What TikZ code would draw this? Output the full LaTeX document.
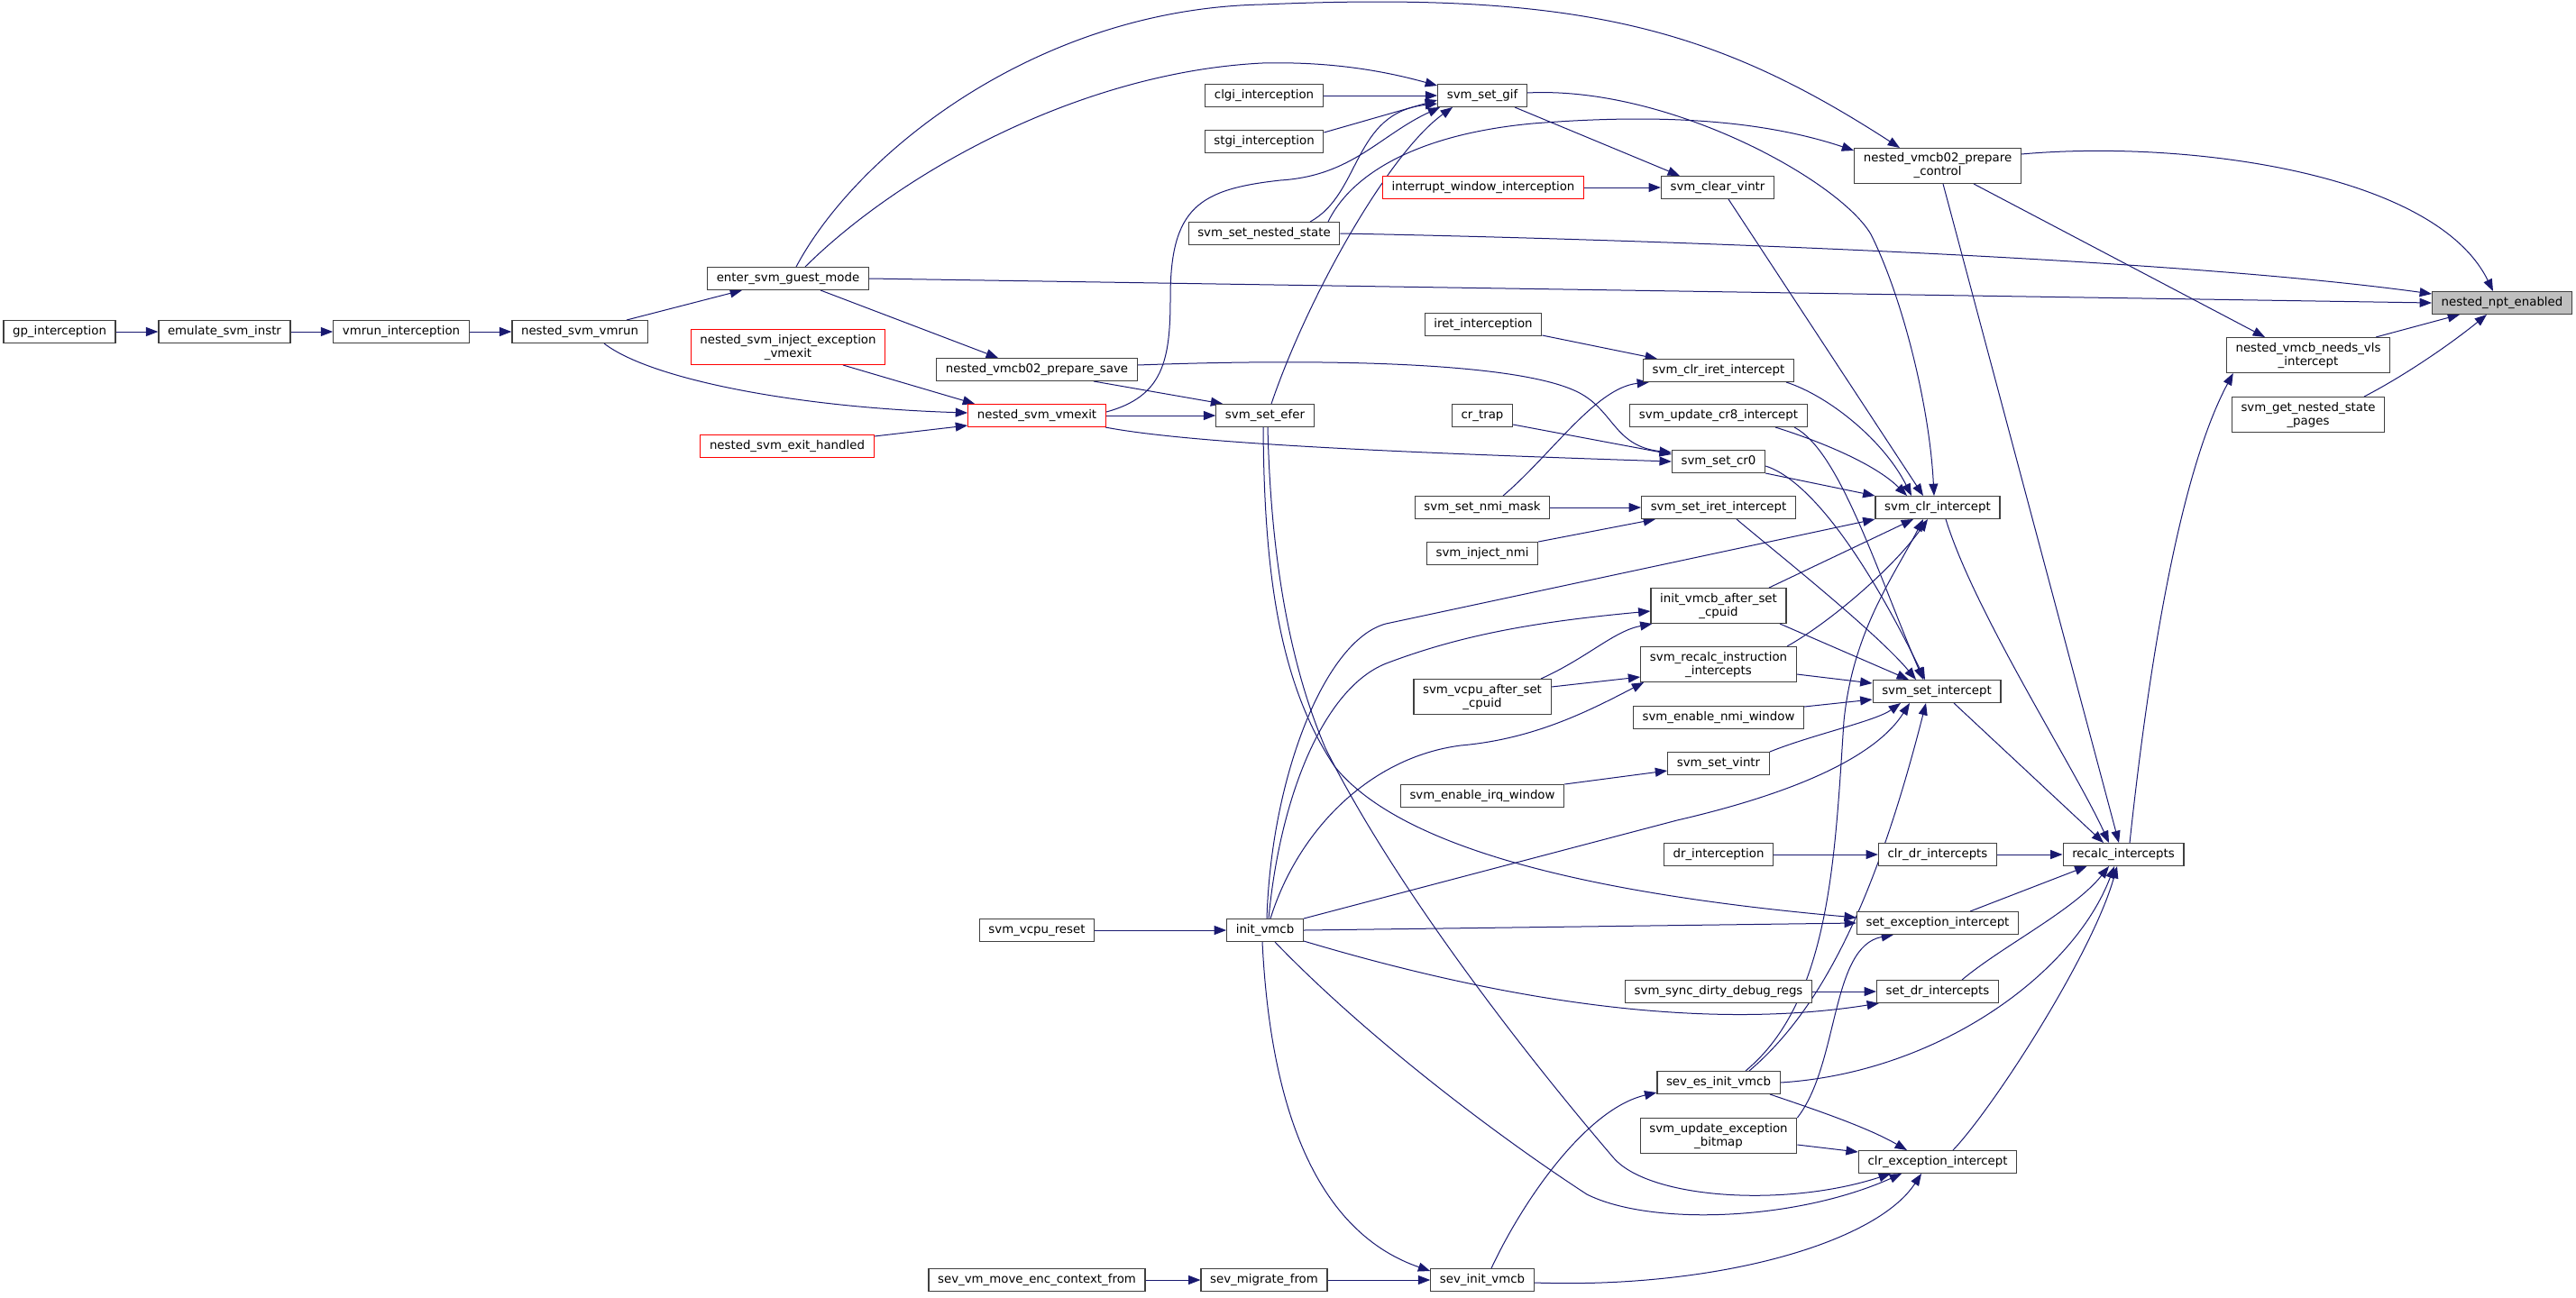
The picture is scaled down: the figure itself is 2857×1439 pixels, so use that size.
\documentclass[tikz,border=0pt]{standalone}
\usepackage{fontspec}
\setmainfont{DejaVu Sans}
\usetikzlibrary{arrows.meta,calc,backgrounds}
\definecolor{midnight}{HTML}{191970}
\definecolor{greyA}{HTML}{404040}
\definecolor{greyB}{HTML}{BFBFBF}
\tikzset{
  fn/.style={draw=greyA, line width=0.9pt, fill=white, inner xsep=7.6pt, inner ysep=2pt,
    minimum height=18.6pt, align=center, font=\fontsize{10}{11.25}\selectfont},
  fnred/.style={fn, draw=red},
  fnmain/.style={fn, fill=greyB},
  two/.style={minimum height=29.1pt},
  edge/.style={draw=midnight, line width=0.75pt, -{Triangle[length=10pt,width=7.5pt]}}
}
\begin{document}
\begin{tikzpicture}[x=0.75pt,y=-0.75pt]
\useasboundingbox (0,0) rectangle (2857,1439);
% nodes
\node[fn] (gp) at (66,368) {gp\_interception};
\node[fn] (emu) at (249,368) {emulate\_svm\_instr};
\node[fn] (vmrun) at (445,368) {vmrun\_interception};
\node[fn] (nsvmrun) at (643,368) {nested\_svm\_vmrun};
\node[fn] (egm) at (874,309) {enter\_svm\_guest\_mode};
\node[fnred,two] (inject) at (874,385) {nested\_svm\_inject\_exception\\\_vmexit};
\node[fnred] (exith) at (873,495) {nested\_svm\_exit\_handled};
\node[fn] (psave) at (1150,410) {nested\_vmcb02\_prepare\_save};
\node[fnred] (vmexit) at (1150,461) {nested\_svm\_vmexit};
\node[fn] (vreset) at (1150,1032) {svm\_vcpu\_reset};
\node[fn] (svmove) at (1150,1420) {sev\_vm\_move\_enc\_context\_from};
\node[fn] (clgi) at (1402,106) {clgi\_interception};
\node[fn] (stgi) at (1402,157) {stgi\_interception};
\node[fn] (nstate) at (1402,259) {svm\_set\_nested\_state};
\node[fn] (efer) at (1403,461) {svm\_set\_efer};
\node[fn] (initv) at (1403,1032) {init\_vmcb};
\node[fn] (migrate) at (1402,1420) {sev\_migrate\_from};
\node[fn] (gif) at (1644,106) {svm\_set\_gif};
\node[fnred] (iwi) at (1645,208) {interrupt\_window\_interception};
\node[fn] (iretint) at (1645,360) {iret\_interception};
\node[fn] (crtrap) at (1644,461) {cr\_trap};
\node[fn] (nmimask) at (1644,563) {svm\_set\_nmi\_mask};
\node[fn] (injnmi) at (1644,614) {svm\_inject\_nmi};
\node[fn,two] (vcpuafter) at (1644,773) {svm\_vcpu\_after\_set\\\_cpuid};
\node[fn] (irqwin) at (1644,883) {svm\_enable\_irq\_window};
\node[fn] (sevinit) at (1644,1420) {sev\_init\_vmcb};
\node[fn] (clrvintr) at (1905,208) {svm\_clear\_vintr};
\node[fn] (clriret) at (1906,411) {svm\_clr\_iret\_intercept};
\node[fn] (updcr8) at (1906,461) {svm\_update\_cr8\_intercept};
\node[fn] (setcr0) at (1906,512) {svm\_set\_cr0};
\node[fn] (setiret) at (1906,563) {svm\_set\_iret\_intercept};
\node[fn,two] (initafter) at (1906,672) {init\_vmcb\_after\_set\\\_cpuid};
\node[fn,two] (recalcinstr) at (1906,737) {svm\_recalc\_instruction\\\_intercepts};
\node[fn] (nmiwin) at (1906,796) {svm\_enable\_nmi\_window};
\node[fn] (setvintr) at (1906,847) {svm\_set\_vintr};
\node[fn] (drint) at (1906,948) {dr\_interception};
\node[fn] (syncdbg) at (1906,1100) {svm\_sync\_dirty\_debug\_regs};
\node[fn] (sevesinit) at (1906,1201) {sev\_es\_init\_vmcb};
\node[fn,two] (updexc) at (1906,1260) {svm\_update\_exception\\\_bitmap};
\node[fn,two] (pctrl) at (2149,184) {nested\_vmcb02\_prepare\\\_control};
\node[fn] (clrint) at (2149,563) {svm\_clr\_intercept};
\node[fn] (setint) at (2148,767) {svm\_set\_intercept};
\node[fn] (clrdr) at (2149,948) {clr\_dr\_intercepts};
\node[fn] (setexc) at (2149,1024) {set\_exception\_intercept};
\node[fn] (setdr) at (2149,1100) {set\_dr\_intercepts};
\node[fn] (clrexc) at (2149,1289) {clr\_exception\_intercept};
\node[fn] (recalc) at (2355,948) {recalc\_intercepts};
\node[fn,two] (vls) at (2560,394) {nested\_vmcb\_needs\_vls\\\_intercept};
\node[fn,two] (getnested) at (2560,460) {svm\_get\_nested\_state\\\_pages};
\node[fnmain] (npt) at (2775,336) {nested\_npt\_enabled};
% edges
\begin{scope}[on background layer]
\draw[edge] (gp) -- (emu);
\draw[edge] (emu) -- (vmrun);
\draw[edge] (vmrun) -- (nsvmrun);
\draw[edge] ($(nsvmrun.north)+(52,0)$) -- ($(egm.south)+(-51,0)$);
\draw[edge] ($(nsvmrun.south)+(27,0)$) .. controls (720,420) and (880,452) .. ($(vmexit.west)+(0,-3)$);
\draw[edge] ($(inject.south)+(61,0)$) -- ($(vmexit.north west)+(8,0)$);
\draw[edge] ($(exith.north east)+(0,2)$) -- ($(vmexit.south west)+(0,-2)$);
\draw[edge] ($(egm.south)+(36,0)$) -- ($(psave.north)+(-43,0)$);
\draw[edge] ($(egm.north)+(19,0)$) .. controls (1000,190) and (1200,80) .. (1400,70) .. controls (1480,68) and (1540,80) .. ($(gif.north west)+(0,2)$);
\draw[edge] ($(egm.north)+(9,0)$) .. controls (950,170) and (1150,10) .. (1400,5) .. controls (1750,-10) and (1900,30) .. ($(pctrl.north)+(-42,0)$);
\draw[edge] (egm.east) -- (npt.west);
\draw[edge] (nstate.east) .. controls (1800,265) and (2400,285) .. ($(npt.west)+(0,-10)$);
\draw[edge] ($(nstate.north)+(51,0)$) .. controls (1510,215) and (1500,125) .. ($(gif.west)+(0,9)$);
\draw[edge] ($(nstate.north)+(71,0)$) .. controls (1495,200) and (1560,150) .. (1700,137) .. controls (1850,125) and (1960,135) .. ($(pctrl.west)+(0,-17)$);
\draw[edge] ($(vmexit.east)+(0,-4)$) .. controls (1290,440) and (1298,400) .. (1298,330) .. controls (1298,230) and (1330,210) .. (1420,200) .. controls (1500,195) and (1530,150) .. ($(gif.south west)+(3,0)$);
\draw[edge] (clgi) -- (gif);
\draw[edge] ($(stgi.north east)+(0,3)$) -- ($(gif.west)+(0,5)$);
\draw[edge] ($(efer.north)+(7,0)$) .. controls (1450,330) and (1540,170) .. ($(gif.south)+(-33,0)$);
\draw[edge] ($(gif.south)+(36,0)$) -- ($(clrvintr.north)+(-42,0)$);
\draw[edge] (iwi) -- (clrvintr);
\draw[edge] ($(gif.east)+(0,-3)$) .. controls (1850,95) and (2040,200) .. (2075,260) .. controls (2110,330) and (2140,450) .. ($(clrint.north)+(-4,0)$);
\draw[edge] ($(clrvintr.south)+(12,0)$) -- ($(clrint.north)+(-16,0)$);
\draw[edge] ($(iretint.south east)+(0,-1)$) -- ($(clriret.north west)+(16,0)$);
\draw[edge] ($(nmimask.north)+(23,0)$) .. controls (1720,505) and (1770,430) .. ($(clriret.south west)+(7,0)$);
\draw[edge] ($(clriret.south east)+(-9,0)$) .. controls (2030,440) and (2090,490) .. ($(clrint.north)+(-29,0)$);
\draw[edge] ($(updcr8.south)+(63,0)$) .. controls (2020,490) and (2080,515) .. ($(clrint.north)+(-34,0)$);
\draw[edge] ($(updcr8.south)+(84,0)$) .. controls (2040,500) and (2080,630) .. ($(setint.north)+(-15,0)$);
\draw[edge] ($(crtrap.south east)+(0,-3)$) -- ($(setcr0.north west)+(0,5)$);
\draw[edge] ($(psave.east)+(0,-5)$) .. controls (1450,398) and (1680,400) .. (1750,435) .. controls (1790,455) and (1790,495) .. ($(setcr0.north west)+(0,3)$);
\draw[edge] ($(vmexit.south east)+(-1,0)$) .. controls (1320,492) and (1550,502) .. (setcr0.west);
\draw[edge] (nmimask) -- (setiret);
\draw[edge] (injnmi.north east) -- ($(setiret.south west)+(16,0)$);
\draw[edge] (setcr0.south east) -- (clrint.north west);
\draw[edge] ($(setcr0.east)+(0,5)$) .. controls (2000,530) and (2060,600) .. ($(setint.north)+(-13,0)$);
\draw[edge] ($(setiret.south)+(20,0)$) .. controls (1960,605) and (2080,700) .. ($(setint.north)+(-23,0)$);
\draw[edge] ($(initafter.north)+(56,0)$) -- ($(clrint.south)+(-27,0)$);
\draw[edge] ($(initafter.south)+(68,0)$) -- ($(setint.north)+(-31,0)$);
\draw[edge] ($(recalcinstr.north)+(76,0)$) .. controls (2030,690) and (2100,630) .. ($(clrint.south)+(-11,0)$);
\draw[edge] ($(recalcinstr.east)+(0,11)$) -- ($(setint.north west)+(0,4)$);
\draw[edge] ($(vcpuafter.north)+(65,0)$) .. controls (1760,730) and (1790,700) .. ($(initafter.south west)+(2,0)$);
\draw[edge] ($(vcpuafter.east)+(0,-11)$) -- ($(recalcinstr.west)+(0,14)$);
\draw[edge] ($(nmiwin.north east)+(0,1)$) -- ($(setint.south west)+(0,-4)$);
\draw[edge] (setvintr.north east) .. controls (2010,815) and (2080,800) .. ($(setint.south)+(-40,0)$);
\draw[edge] (irqwin.north east) -- ($(setvintr.west)+(0,8)$);
\draw[edge] (drint) -- (clrdr);
\draw[edge] (clrdr) -- (recalc);
\draw[edge] (syncdbg) -- (setdr);
\draw[edge] ($(setint.south)+(19,0)$) -- ($(recalc.north)+(-22,0)$);
\draw[edge] ($(clrint.south)+(9,0)$) .. controls (2190,680) and (2300,850) .. ($(recalc.north)+(-16,0)$);
\draw[edge] ($(pctrl.south)+(6,0)$) -- ($(recalc.north)+(-5,0)$);
\draw[edge] ($(recalc.north)+(7,0)$) .. controls (2385,720) and (2420,520) .. ($(vls.south west)+(8,0)$);
\draw[edge] ($(pctrl.south)+(40,0)$) -- ($(vls.north)+(-48,0)$);
\draw[edge] ($(pctrl.east)+(0,-13)$) .. controls (2420,155) and (2700,190) .. ($(npt.north)+(-10,0)$);
\draw[edge] ($(vls.north)+(75,0)$) -- ($(npt.south)+(-47,0)$);
\draw[edge] ($(getnested.north)+(62,0)$) .. controls (2670,415) and (2720,380) .. ($(npt.south)+(-17,0)$);
\draw[edge] (vmexit) -- (efer);
\draw[edge] ($(psave.south)+(63,0)$) -- ($(efer.north west)+(8,0)$);
\draw[edge] ($(efer.south)+(-2,0)$) .. controls (1402,640) and (1420,760) .. (1480,850) .. controls (1560,950) and (1800,995) .. ($(setexc.west)+(0,-6)$);
\draw[edge] ($(efer.south)+(3,0)$) .. controls (1410,650) and (1440,760) .. (1470,830) .. controls (1550,990) and (1700,1180) .. (1790,1285) .. controls (1830,1330) and (1980,1340) .. ($(clrexc.south)+(-52,0)$);
\draw[edge] ($(initv.north)+(2,0)$) .. controls (1410,860) and (1470,710) .. (1537,692) -- (clrint.south west);
\draw[edge] ($(initv.north)+(4,0)$) .. controls (1420,880) and (1470,760) .. (1540,735) .. controls (1620,705) and (1700,690) .. ($(initafter.west)+(0,6)$);
\draw[edge] ($(initv.north)+(6,0)$) .. controls (1440,920) and (1520,840) .. (1620,827) .. controls (1700,820) and (1760,790) .. ($(recalcinstr.south west)+(4,0)$);
\draw[edge] (initv.north east) -- (1860,910) .. controls (1990,880) and (2080,840) .. ($(setint.south)+(-30,0)$);
\draw[edge] (initv.east) -- (setexc.west);
\draw[edge] ($(initv.south east)+(0,-1)$) .. controls (1600,1090) and (1850,1150) .. ($(setdr.south west)+(3,0)$);
\draw[edge] ($(initv.south)+(11,0)$) .. controls (1515,1150) and (1660,1260) .. (1760,1325) .. controls (1830,1360) and (1990,1355) .. ($(clrexc.south)+(-40,0)$);
\draw[edge] ($(initv.south)+(-3,0)$) .. controls (1410,1250) and (1470,1370) .. ($(sevinit.north west)+(0,3)$);
\draw[edge] (vreset) -- (initv);
\draw[edge] (svmove) -- (migrate);
\draw[edge] (migrate) -- (sevinit);
\draw[edge] ($(sevinit.north)+(10,0)$) .. controls (1690,1330) and (1760,1230) .. ($(sevesinit.south west)+(0,-2)$);
\draw[edge] ($(sevinit.east)+(0,3)$) .. controls (1900,1430) and (2080,1380) .. ($(clrexc.south)+(-18,0)$);
\draw[edge] ($(sevesinit.south)+(57,0)$) .. controls (2010,1230) and (2070,1250) .. ($(clrexc.north)+(-34,0)$);
\draw[edge] ($(updexc.east)+(0,10)$) -- ($(clrexc.west)+(0,-11)$);
\draw[edge] (updexc.north east) .. controls (2040,1180) and (2030,1050) .. ($(setexc.south)+(-49,0)$);
\draw[edge] (sevesinit.east) .. controls (2150,1190) and (2300,1080) .. ($(recalc.south)+(-10,0)$);
\draw[edge] ($(sevesinit.north)+(30,0)$) .. controls (2030,1110) and (2035,950) .. (2045,800) .. controls (2055,700) and (2100,640) .. ($(clrint.south)+(-16,0)$);
\draw[edge] ($(sevesinit.north)+(34,0)$) .. controls (2020,1120) and (2080,1000) .. ($(setint.south)+(-12,0)$);
\draw[edge] ($(setexc.north)+(36,0)$) -- ($(recalc.south west)+(27,0)$);
\draw[edge] ($(setdr.north)+(27,0)$) .. controls (2220,1050) and (2300,1010) .. ($(recalc.south)+(-16,0)$);
\draw[edge] ($(clrexc.north)+(17,0)$) .. controls (2210,1230) and (2320,1060) .. ($(recalc.south)+(-7,0)$);
\end{scope}
\end{tikzpicture}
\end{document}
